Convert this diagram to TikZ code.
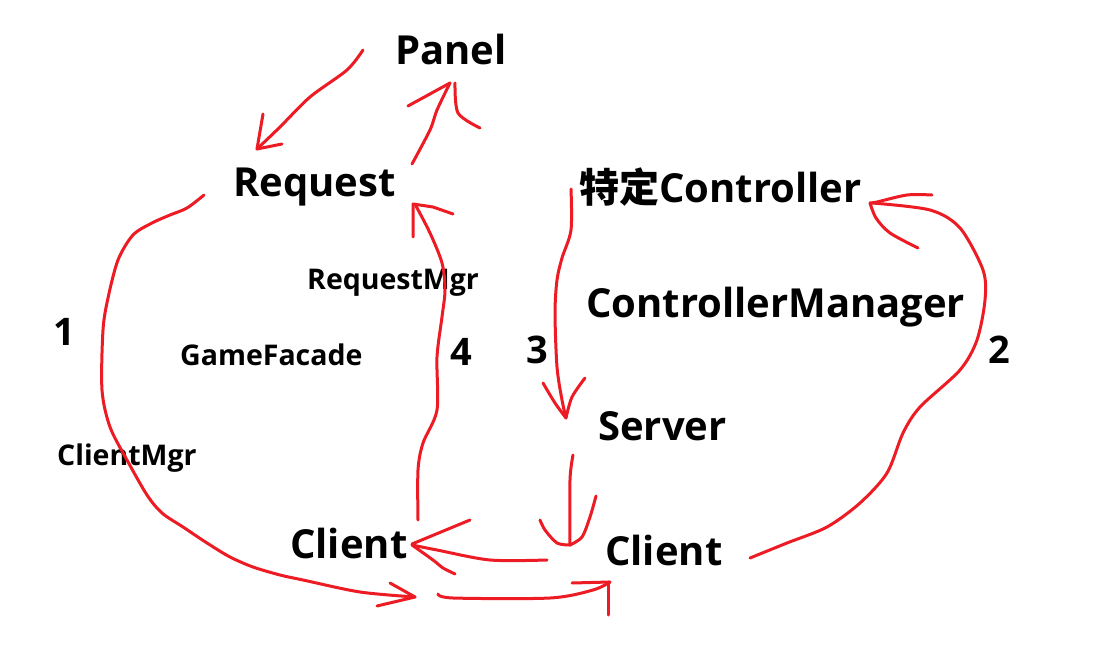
\documentclass[tikz,border=0pt]{standalone}
\usepackage{fontspec}
\setmainfont{Open Sans}
\newfontfamily\cjk{Noto Sans CJK SC Bold}
\definecolor{pen}{RGB}{237,28,36}
\begin{document}
\begin{tikzpicture}[x=1pt,y=-1pt,
  big/.style={anchor=base west,inner sep=0pt,font=\fontsize{40}{44}\selectfont\bfseries},
  num/.style={anchor=base west,inner sep=0pt,font=\fontsize{38}{42}\selectfont\bfseries},
  small/.style={anchor=base west,inner sep=0pt,font=\fontsize{28.5}{32}\selectfont\bfseries},
  stroke/.style={draw=pen,line width=3pt,line cap=round,line join=round}]
\useasboundingbox[fill=white] (0,0) rectangle (1108,652);
% texts
\node[big] (panel) at (395,65) {Panel};
\node[big] (request) at (233,197) {Request};
\node[big] (ctrl) at (579,203) {{\cjk 特定}Controller};
\node[big] (cm) at (586,317) {ControllerManager};
\node[big] (server) at (598,440) {Server};
\node[big] (clientL) at (290,558) {Client};
\node[big] (clientR) at (605,565) {Client};
\node[small] (rmgr) at (307,290) {RequestMgr};
\node[small] (gf) at (180,365) {GameFacade};
\node[small] (cmgr) at (57,465) {ClientMgr};
\node[num] (n1) at (53,345) {1};
\node[num] (n4) at (450,365) {4};
\node[num] (n3) at (526,363) {3};
\node[num] (n2) at (988,363) {2};
% Panel -> Request
\draw[stroke] plot[smooth] coordinates {(363,50) (347,70) (310,97) (280,127) (257,149)};
\draw[stroke] (263,114) -- (257,149) -- (282,144);
% Request -> Panel
\draw[stroke] plot[smooth] coordinates {(412,164) (430,130) (437,110) (450,83)};
\draw[stroke] (408,106) -- (450,83);
\draw[stroke] plot[smooth] coordinates {(455,83) (458,113) (480,128)};
% 1 : Request -> ClientMgr -> Client
\draw[stroke] plot[smooth] coordinates {(204,195) (187,208) (170,215) (152,223) (133,235) (118,260) (108,298) (103,330) (102,390) (110,427) (127,460) (147,495) (162,513) (183,527) (207,543) (230,557) (253,567) (280,575) (303,580) (360,592) (415,597)};
\draw[stroke] (390,583) -- (415,597) -- (377,606);
% Client -> Client (bottom)
\draw[stroke] plot[smooth] coordinates {(438,594) (453,598) (550,598) (593,590) (610,582)};
\draw[stroke] (572,583) -- (610,582);
\draw[stroke] (608,582) -- (608,615);
% 4 : Client -> Request
\draw[stroke] plot[smooth] coordinates {(418,520) (418,470) (423,443) (437,410) (437,357) (442,317) (445,290) (442,263) (430,233) (416,206)};
\draw[stroke] (413,237) -- (413,204) -- (433,207) -- (453,214);
% 3 : Controller -> Server
\draw[stroke] plot[smooth] coordinates {(571,189) (571,230) (562,258) (557,280) (555,313) (557,367) (562,400) (566,418)};
\draw[stroke] plot[smooth] coordinates {(543,383) (555,403) (566,418)};
\draw[stroke] plot[smooth] coordinates {(585,378) (572,397) (566,418)};
% Server -> Client
\draw[stroke] plot[smooth] coordinates {(573,455) (570,480) (570,545)};
\draw[stroke] plot[smooth] coordinates {(540,520) (545,530) (557,543) (570,545)};
\draw[stroke] plot[smooth] coordinates {(596,496) (590,517) (582,537) (570,545)};
% Client right -> Client left
\draw[stroke] plot[smooth] coordinates {(547,560) (490,560) (437,550) (412,545)};
\draw[stroke] (470,520) -- (412,544);
\draw[stroke] plot[smooth] coordinates {(412,545) (433,560) (443,568) (455,574)};
% 2 : Client -> Controller
\draw[stroke] plot[smooth] coordinates {(750,558) (787,543) (827,527) (860,503) (887,473) (903,433) (920,407) (960,370) (977,340) (985,300) (983,270) (960,228) (930,210) (872,203)};
\draw[stroke] plot[smooth] coordinates {(932,195) (907,195) (877,202) (870,203)};
\draw[stroke] plot[smooth] coordinates {(870,203) (876,218) (890,233) (918,248)};
\end{tikzpicture}
\end{document}
